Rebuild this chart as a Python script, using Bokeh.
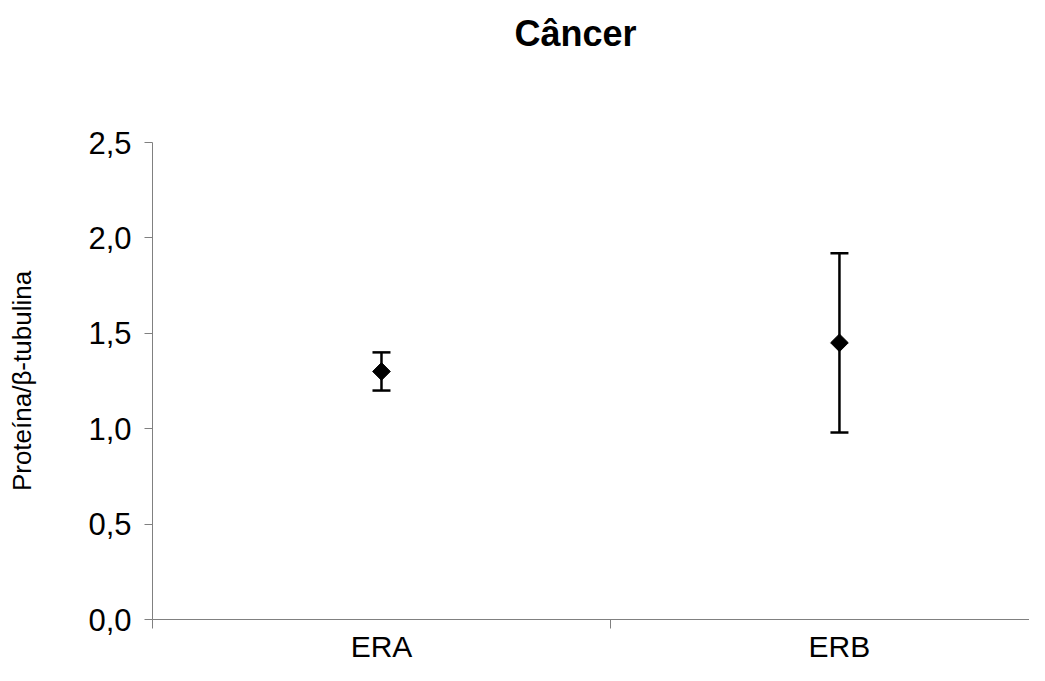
from bokeh.plotting import figure
from bokeh.models import Range1d, FixedTicker, ColumnDataSource, Whisker, TeeHead, LinearAxis, Title
from bokeh.embed import file_html
from bokeh.resources import INLINE
import math

# data
categories = ["ERA", "ERB"]
cat_pos = [0.5, 1.5]
means = [1.30, 1.45]
errors = [0.10, 0.47]
yticks = [0.0, 0.5, 1.0, 1.5, 2.0, 2.5]
ytick_labels = ["0,0", "0,5", "1,0", "1,5", "2,0", "2,5"]
title_text = "Câncer"
ylabel = "Proteína/β-tubulina"

FONT = "Liberation Sans"
AXIS_GRAY = "#808080"

W, H = 1029, 665
BL, BT, BB = 152, 142, 45
p = figure(width=W, height=H, output_backend="svg", toolbar_location=None,
           x_range=Range1d(0, 1.915), y_range=Range1d(0, 2.5),
           min_border_left=BL, min_border_right=0, min_border_top=BT, min_border_bottom=BB)
p.outline_line_color = None
p.grid.visible = False
p.background_fill_color = "white"
p.border_fill_color = "white"
p.title.text = ""

# y axis
ya = p.yaxis[0]
ya.ticker = FixedTicker(ticks=yticks)
ya.major_label_overrides = {v: s for v, s in zip(yticks, ytick_labels)}
ya.major_label_text_font = FONT
ya.major_label_text_font_size = "31px"
ya.major_label_text_color = "black"
ya.major_label_standoff = 13
ya.axis_line_color = AXIS_GRAY
ya.major_tick_line_color = AXIS_GRAY
ya.major_tick_out = 8
ya.major_tick_in = 0
ya.minor_tick_line_color = None
ya.axis_label = ylabel
ya.axis_label_text_font = FONT
ya.axis_label_text_font_size = "26px"
ya.axis_label_text_font_style = "normal"
ya.axis_label_text_color = "black"
ya.axis_label_standoff = 48

# x axis
xa = p.xaxis[0]
xa.ticker = FixedTicker(ticks=cat_pos, minor_ticks=[0.0, 1.0, 2.0])
xa.major_label_overrides = {v: s for v, s in zip(cat_pos, categories)}
xa.major_label_text_font = FONT
xa.major_label_text_font_size = "30px"
xa.major_label_text_color = "black"
xa.major_tick_line_color = None
xa.major_tick_out = 0
xa.major_tick_in = 0
xa.major_label_standoff = 1
xa.minor_tick_line_color = AXIS_GRAY
xa.minor_tick_out = 9
xa.minor_tick_in = 0
xa.axis_line_color = AXIS_GRAY

# invisible spacer axis above the frame (pushes the title upward)
spacer = LinearAxis(ticker=FixedTicker(ticks=[1.0]), major_label_overrides={1.0: ""},
                    axis_line_color=None, major_tick_line_color=None,
                    minor_tick_line_color=None, major_tick_out=89, major_tick_in=0,
                    minor_tick_out=0, minor_tick_in=0, major_label_standoff=0,
                    major_label_text_font_size="1px")
p.add_layout(spacer, "above")

title = Title(text=title_text, text_font=FONT, text_font_size="36px", text_font_style="bold",
              text_color="black", align="left", offset=362, standoff=0)
p.add_layout(title, "above")

src = ColumnDataSource(dict(
    x=cat_pos, y=means,
    upper=[m + e for m, e in zip(means, errors)],
    lower=[m - e for m, e in zip(means, errors)],
))

w = Whisker(source=src, base="x", upper="upper", lower="lower", dimension="height",
            line_color="black", line_width=2.5,
            upper_head=TeeHead(size=18, line_color="black", line_width=2.5),
            lower_head=TeeHead(size=18, line_color="black", line_width=2.5))
p.add_layout(w)

p.scatter("x", "y", source=src, marker="square", size=12.5, angle=math.pi / 4,
          fill_color="black", line_color="black")

open("out.html", "w").write(file_html(p, INLINE))
